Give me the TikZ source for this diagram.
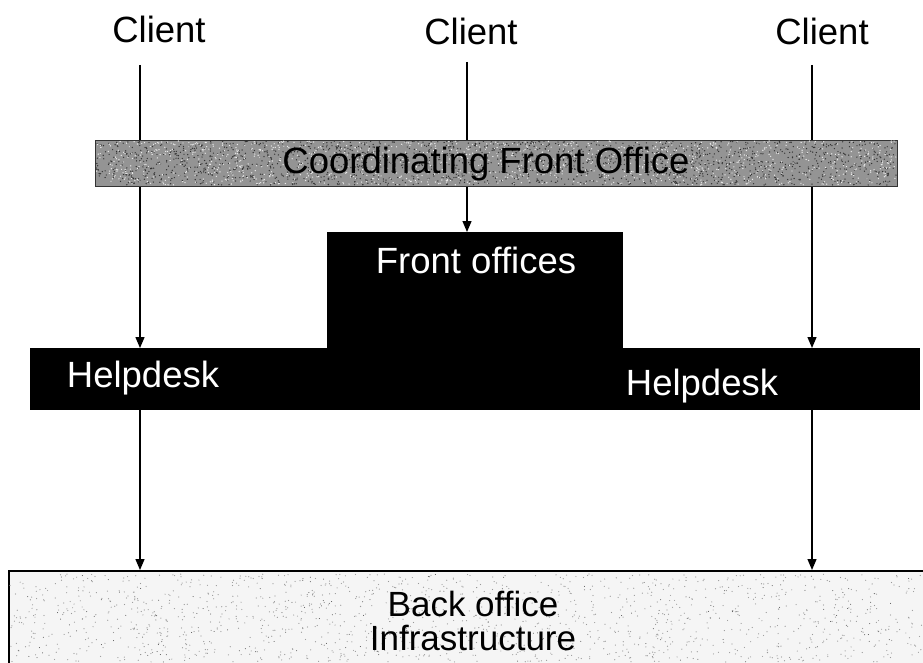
\documentclass[tikz,border=0pt]{standalone}
\usepackage{fontspec}
\setmainfont{Liberation Sans}
\usetikzlibrary{arrows.meta}
\begin{document}
\begin{tikzpicture}[x=1pt,y=-1pt,
  lbl/.style={font=\fontsize{36.5}{31}\selectfont, inner sep=0pt},
  wlbl/.style={lbl, text=white},
  arr/.style={-{Triangle[length=11pt,width=9pt]}, line width=1.3pt},
  ln/.style={line width=1.3pt},
  blk/.style={fill=black, inner sep=0pt, anchor=north west}]
\useasboundingbox (0,0) rectangle (923,663);
\fill[white] (0,0) rectangle (923,663);
\pgfmathsetseed{7}
% clients
\node[lbl] (c1) at (159,29) {Client};
\node[lbl] (c2) at (471,31) {Client};
\node[lbl] (c3) at (822,31) {Client};
\coordinate (t1) at (140,65);
\coordinate (t2) at (467,62);
\coordinate (t3) at (812,65);
% boxes (placed first for anchor use)
\node[blk, minimum width=296pt, minimum height=120pt] (fo) at (327,232) {};
\node[blk, minimum width=890pt, minimum height=62pt] (hd) at (30,348) {};
\node[draw=black, line width=1.6pt, fill=gray!8, inner sep=0pt, anchor=north west,
      minimum width=930pt, minimum height=110pt] (bo) at (8,570) {};
% speckle on back office
\foreach \i in {1,...,1300}{
  \fill[black!40] (10+rnd*912, 574+rnd*88) circle (0.6pt);
}
\foreach \i in {1,...,250}{
  \fill[black!70] (10+rnd*912, 574+rnd*88) circle (0.5pt);
}
% lines from clients
\draw[arr] (t1) -- (t1 |- hd.north);
\draw[arr] (t3) -- (t3 |- hd.north);
\draw[ln] (t2) -- (t2 |- 0,150);
% coordinating front office
\node[draw=black!80, line width=1.2pt, fill=black!42, inner sep=0pt, anchor=north west,
      minimum width=802pt, minimum height=46pt] (cfo) at (95,140) {};
\foreach \i in {1,...,1800}{
  \fill[black!80] (96+rnd*800, 141+rnd*44) circle (0.7pt);
}
\foreach \i in {1,...,1200}{
  \fill[black!8] (96+rnd*800, 141+rnd*44) circle (0.7pt);
}
\node[lbl] (cfot) at (486,164) {Coordinating Front Office};
\draw[arr] (t2 |- cfo.south) -- (t2 |- fo.north);
% labels in black shapes
\node[wlbl] (fot) at (476,260) {Front offices};
\node[wlbl] (hd1) at (143,378) {Helpdesk};
\node[wlbl] (hd2) at (702,386) {Helpdesk};
% lower arrows
\draw[arr] (t1 |- hd.south) -- (t1 |- bo.north);
\draw[arr] (t3 |- hd.south) -- (t3 |- bo.north);
% back office text
\node[font=\fontsize{35}{34}\selectfont, inner sep=0pt, align=center] (bot) at (473,621) {Back office\\Infrastructure};
\end{tikzpicture}
\end{document}
